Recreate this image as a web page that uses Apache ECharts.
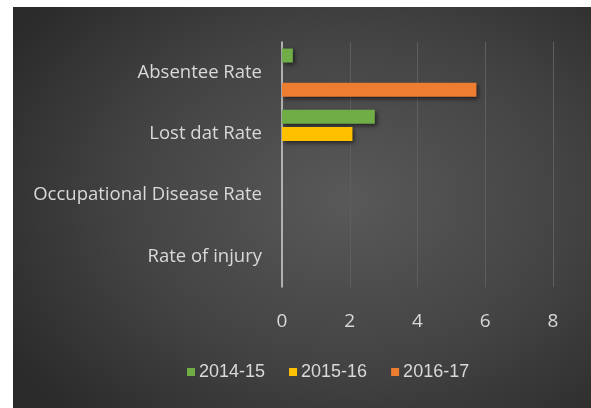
<!DOCTYPE html>
<html>
<head>
<meta charset="utf-8">
<script src="https://cdn.jsdelivr.net/npm/echarts@6/dist/echarts.min.js"></script>
<style>
  html, body { margin: 0; padding: 0; background: #fff; }
  #wrap { position: relative; width: 591px; height: 408px; }
  #bg {
    position: absolute; left: 13px; top: 7px; width: 578px; height: 401px;
    background: radial-gradient(ellipse 70% 75% at 58% 48%, #595959 0%, #434343 55%, #2a2a2a 100%);
  }
  #myChart { position: absolute; left: 0; top: 0; width: 591px; height: 408px; }
</style>
</head>
<body>
<div id="wrap">
  <div id="bg"></div>
  <div id="myChart"></div>
</div>
<script type="text/javascript">
// categories, top to bottom
var categories = ['Absentee Rate', 'Lost dat Rate', 'Occupational Disease Rate', 'Rate of injury'];
var seriesNames = ['2014-15', '2015-16', '2016-17'];
var colors = ['#70ad47', '#ffc000', '#ed7d31'];
var data1415 = [0.32, 2.74, 0, 0];
var data1516 = [0, 2.08, 0, 0];
var data1617 = [5.74, 0, 0, 0];
var xTicks = [0, 2, 4, 6, 8];

var allData = [data1415, data1516, data1617];
var series = [];
for (var i = 0; i < seriesNames.length; i++) {
    series.push({
        name: seriesNames[i],
        type: 'bar',
        data: allData[i],
        barWidth: 14,
        barGap: '22%',
        barCategoryGap: '20%',
        itemStyle: {
            color: colors[i],
            shadowColor: 'rgba(0,0,0,0.55)',
            shadowBlur: 4,
            shadowOffsetX: 2,
            shadowOffsetY: 2
        }
    });
}

var option = {
    backgroundColor: 'transparent',
    animation: false,
    color: colors,
    grid: { left: 282, right: 38, top: 42, bottom: 121, containLabel: false },
    legend: {
        data: seriesNames,
        left: 182,
        top: 358,
        itemWidth: 8,
        itemHeight: 8,
        itemGap: 24,
        icon: 'rect',
        textStyle: { color: '#d9d9d9', fontSize: 18, fontFamily: 'Liberation Sans', padding: [0, 0, 0, -1] }
    },
    xAxis: {
        type: 'value',
        min: xTicks[0],
        max: xTicks[xTicks.length - 1],
        interval: 2,
        axisLine: { show: false },
        axisTick: { show: false },
        axisLabel: { color: '#d9d9d9', fontSize: 19, fontFamily: 'Open Sans', margin: 25 },
        splitLine: { lineStyle: { color: '#5e5e5e', width: 1 } }
    },
    yAxis: {
        type: 'category',
        data: categories,
        inverse: true,
        axisLine: { show: true, lineStyle: { color: '#cfcfcf', width: 1.5 } },
        axisTick: { show: false },
        axisLabel: { color: '#d9d9d9', fontSize: 18.5, fontFamily: 'Open Sans', margin: 20 }
    },
    series: series
};

echarts.init(document.getElementById('myChart')).setOption(option);
</script>
</body>
</html>
